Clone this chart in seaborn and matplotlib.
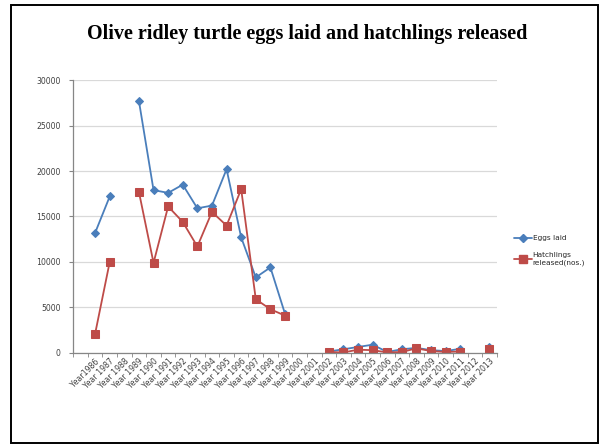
import numpy as np
import pandas as pd
import matplotlib
matplotlib.use("Agg")
import matplotlib.pyplot as plt
from matplotlib.patches import Rectangle
import seaborn as sns

years = ["Year1986"] + [f"Year {y}" for y in range(1987, 2014)]
eggs_laid = [13200, 17200, np.nan, 27700, 17900, 17600, 18500, 15900, 16200,
             20200, 12700, 8300, 9400, 4300, np.nan, np.nan, 150, 400, 650,
             900, 100, 400, 550, 300, 200, 450, np.nan, 650]
hatchlings = [2100, 10000, np.nan, 17700, 9900, 16100, 14400, 11700, 15500,
              14000, 18000, 5900, 4800, 4100, np.nan, np.nan, 100, 50, 350,
              300, 50, 100, 500, 200, 100, 150, np.nan, 450]


def with_segments(values):
    """Tidy frame where each run of consecutive values gets its own id,
    so missing years break the line instead of being bridged."""
    vals = np.asarray(values, dtype=float)
    seg = np.cumsum(np.isnan(vals))
    out = pd.DataFrame({"pos": np.arange(len(vals)), "value": vals, "seg": seg})
    return out.dropna()


eggs_df = with_segments(eggs_laid)
hatch_df = with_segments(hatchlings)

sns.set_style("white")
plt.rcParams["font.family"] = ["DejaVu Sans"]

fig = plt.figure(figsize=(6.0, 4.45), dpi=100)
ax = fig.add_axes([0.122, 0.207, 0.706, 0.613])

blue = "#4A7EBB"
red = "#BE4B48"
sns.lineplot(data=eggs_df, x="pos", y="value", units="seg", estimator=None,
             ax=ax, color=blue, lw=1.3, marker="D", markersize=4,
             markeredgecolor=blue, legend=False)
sns.lineplot(data=hatch_df, x="pos", y="value", units="seg", estimator=None,
             ax=ax, color=red, lw=1.3, marker="s", markersize=6,
             markeredgecolor=red, legend=False)

handles = [
    plt.Line2D([], [], color=blue, lw=1.3, marker="D", markersize=4,
               markeredgecolor=blue),
    plt.Line2D([], [], color=red, lw=1.3, marker="s", markersize=6,
               markeredgecolor=red),
]
leg = ax.legend(handles, ["Eggs laid", "Hatchlings\nreleased(nos.)"],
                loc="center left", bbox_to_anchor=(1.024, 0.375), frameon=False,
                fontsize=5.3, handlelength=2.4, labelspacing=1.5,
                handletextpad=0.1, borderaxespad=0.6)
for t in leg.get_texts():
    t.set_color("#262626")

ax.set_xlim(-1.5, len(years) - 0.5)
ax.set_ylim(0, 30000)
ax.set_yticks(np.arange(0, 30001, 5000))
ax.yaxis.grid(True, color="#D9D9D9", lw=0.9)
ax.set_axisbelow(True)
ax.set_xlabel("")
ax.set_ylabel("")

ax.set_xticks(np.arange(len(years)))
ax.set_xticklabels(years, rotation=45, ha="right", va="top",
                   rotation_mode="anchor", fontsize=5.6, color="#404040")
ax.set_xticks(np.arange(-1.5, len(years)), minor=True)
ax.tick_params(axis="x", which="major", length=0, pad=3)
ax.tick_params(axis="x", which="minor", length=3, color="#868686",
               direction="out", bottom=True)
ax.tick_params(axis="y", length=3, color="#868686", direction="out",
               left=True, labelsize=5.6, labelcolor="#404040", pad=6)

for side in ["top", "right"]:
    ax.spines[side].set_visible(False)
for side in ["left", "bottom"]:
    ax.spines[side].set_color("#868686")
    ax.spines[side].set_linewidth(0.9)

fig.text(0.512, 0.923, "Olive ridley turtle eggs laid and hatchlings released",
         ha="center", va="center", fontsize=14.5, fontweight="bold",
         family="Liberation Serif", color="black")

fig.patches.append(Rectangle((0.019, 0.005), 0.977, 0.984,
                             transform=fig.transFigure, fill=False,
                             edgecolor="black", lw=1.4))

fig.savefig("out.png", dpi=100)
